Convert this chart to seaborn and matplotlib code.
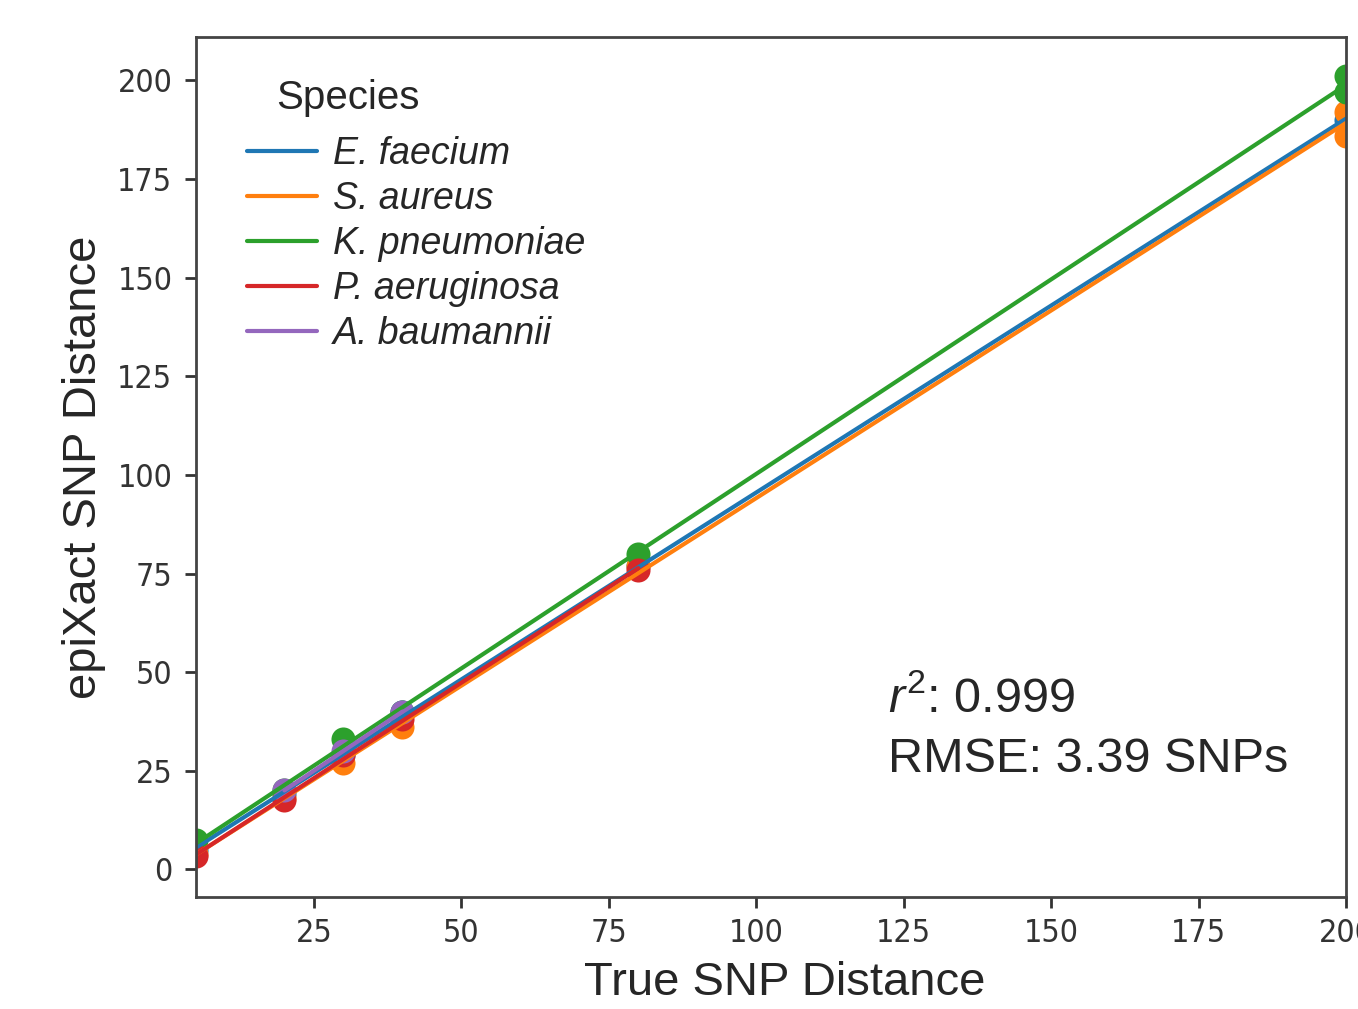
import numpy as np
import pandas as pd
import seaborn as sns
import matplotlib.pyplot as plt

# values
species = ['E. faecium', 'S. aureus', 'K. pneumoniae', 'P. aeruginosa', 'A. baumannii']
ef_true = [5, 20, 30, 40, 80, 200]
ef_epi = [5, 19, 29, 40, 77, 190]
sa_true = [5, 20, 30, 40, 80, 200, 200]
sa_epi = [4, 18, 27, 36, 77, 192, 186]
kp_true = [5, 20, 30, 40, 80, 200, 200]
kp_epi = [7.5, 20, 33, 40, 80, 201, 197]
pa_true = [5, 20, 30, 40, 80]
pa_epi = [3.5, 17.5, 29, 38, 76]
ab_true = [20, 30, 40]
ab_epi = [20, 30, 40]

true_vals = [ef_true, sa_true, kp_true, pa_true, ab_true]
epi_vals = [ef_epi, sa_epi, kp_epi, pa_epi, ab_epi]

df = pd.concat([pd.DataFrame({'true': t, 'epi': e, 'species': s})
                for s, t, e in zip(species, true_vals, epi_vals)])

sns.set_style('white')
plt.rcParams['font.family'] = ['DejaVu Sans']
plt.rcParams['mathtext.fontset'] = 'custom'
plt.rcParams['mathtext.rm'] = 'Liberation Sans'
plt.rcParams['mathtext.it'] = 'Liberation Sans:italic'

colors = sns.color_palette('tab10', 5)

fig = plt.figure(figsize=(13.58, 10.09), dpi=100)
ax = fig.add_axes([0.1443, 0.111, 0.8469, 0.8523])

for sp, c in zip(species, colors):
    sns.regplot(data=df[df.species == sp], x='true', y='epi', ci=None, ax=ax,
                color=c, scatter_kws={'s': 300, 'alpha': 1, 'linewidths': 0},
                line_kws={'lw': 3, 'label': sp})

ax.set_xlim(5, 200)
ax.set_ylim(-7, 211)
ax.set_xticks([25, 50, 75, 100, 125, 150, 175, 200])
ax.set_yticks([0, 25, 50, 75, 100, 125, 150, 175, 200])
ax.tick_params(axis='both', labelsize=23, labelcolor='#333333', length=8,
               width=2, color='#333333', direction='out', bottom=True, left=True)
ax.tick_params(axis='y', pad=9)
ax.tick_params(axis='x', pad=7)
for lab in ax.get_xticklabels() + ax.get_yticklabels():
    lab.set_fontstretch('condensed')
for sp in ax.spines.values():
    sp.set_color('#444444')
    sp.set_linewidth(2)

ax.set_xlabel('True SNP Distance', fontsize=34, family='Liberation Sans')
ax.xaxis.set_label_coords(0.512, -0.114, transform=ax.transAxes)
ax.xaxis.label.set_va('baseline')
ax.set_ylabel('epiXact SNP Distance', fontsize=34, family='Liberation Sans', labelpad=8)

ax.text(0.0696, 0.929, 'Species', transform=ax.transAxes, fontsize=29,
        family='Liberation Sans', va='center', ha='left')
ax.legend(loc='upper left', bbox_to_anchor=(0.0443, 0.885), borderaxespad=0,
          borderpad=0, frameon=False, handlelength=1.87, handletextpad=0.43,
          labelspacing=0.24,
          prop={'family': 'Liberation Sans', 'style': 'italic', 'size': 27})

ax.text(0.602, 0.215, r'$r^2$: 0.999', transform=ax.transAxes, fontsize=35,
        family='Liberation Sans')
ax.text(0.602, 0.145, 'RMSE: 3.39 SNPs', transform=ax.transAxes, fontsize=35,
        family='Liberation Sans')

fig.savefig('out.png', dpi=100)
